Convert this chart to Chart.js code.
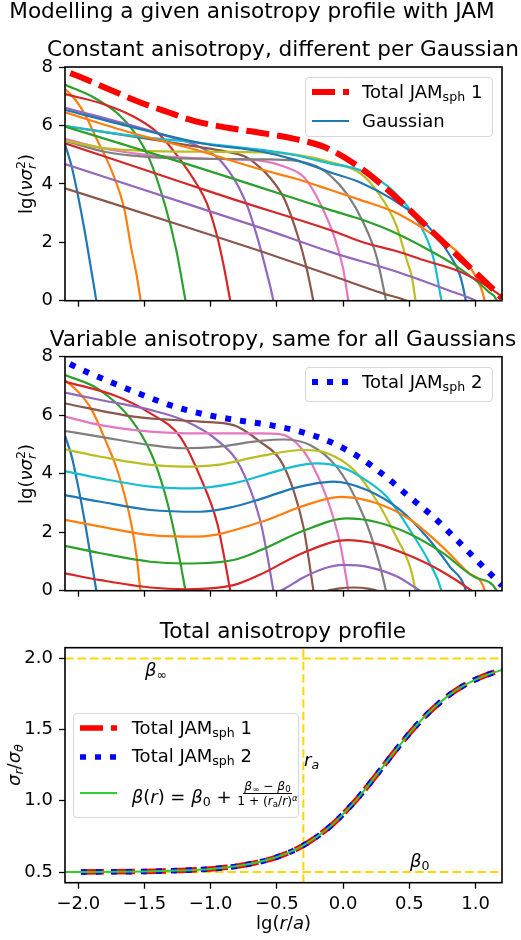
<!DOCTYPE html>
<html lang="en">
<head>
<meta charset="UTF-8">
<title>Modelling a given anisotropy profile with JAM</title>
<script src="https://cdn.jsdelivr.net/npm/chart.js"></script>
<style>
  body { margin: 0; background: #fff; }
  #fig { position: relative; width: 521px; height: 940px; overflow: hidden; font-family: 'DejaVu Sans', sans-serif; color: #000; }
  #fig canvas { position: absolute; left: 0; top: 0; }
  .txt { position: absolute; white-space: nowrap; line-height: 1; font-size: 18px; }
  .title { font-size: 21.6px; transform: translateX(-50%); }
  .ylab { transform: translate(-50%, -50%) rotate(-90deg); }
  .xlab { transform: translate(-50%, -50%); }
  .txt sub, .txt sup { font-size: 0.7em; line-height: 0; }
  .txt sub { vertical-align: -0.25em; }
  .txt sup { vertical-align: 0.5em; }
  .ss { display: inline-block; font-size: 0.7em; line-height: 0.9; vertical-align: -0.3em; }
  .ss span { display: block; }
  .leg { position: absolute; box-sizing: border-box; border: 1px solid #d6d6d6; border-radius: 4px; background: rgba(255,255,255,0.8); }
  .leg svg { position: absolute; }
  .frac { display: inline-flex; flex-direction: column; align-items: center; font-size: 0.68em; vertical-align: 13px; }
  .frac .num { border-bottom: 1px solid #000; padding: 0 1px 1px 1px; }
  .frac .den { padding-top: 1px; }
</style>
</head>
<body>
<div id="fig">
  <canvas id="chart1" width="521" height="940"></canvas>
  <canvas id="chart2" width="521" height="940"></canvas>
  <canvas id="chart3" width="521" height="940"></canvas>

  <div class="txt title" style="left:252px; top:0px;">Modelling a given anisotropy profile with JAM</div>
  <div class="txt title" style="left:283px; top:38.4px;">Constant anisotropy, different per Gaussian</div>
  <div class="txt title" style="left:283px; top:328.1px;">Variable anisotropy, same for all Gaussians</div>
  <div class="txt title" style="left:283px; top:619.7px;">Total anisotropy profile</div>

  <div class="txt ylab" style="left:26px; top:184px;">lg(<i>νσ</i><span class="ss"><span>2</span><span><i>r</i></span></span>)</div>
  <div class="txt ylab" style="left:26px; top:474px;">lg(<i>νσ</i><span class="ss"><span>2</span><span><i>r</i></span></span>)</div>
  <div class="txt ylab" style="left:14px; top:765px;"><i>σ</i><sub><i>r</i></sub>/<i>σ</i><sub><i>θ</i></sub></div>
  <div class="txt xlab" style="left:283.5px; top:923px;">lg(<i>r</i>/<i>a</i>)</div>

  <div class="txt" style="left:145px; top:661px;"><i>β</i><sub>∞</sub></div>
  <div class="txt" style="left:410px; top:852px;"><i>β</i><sub>0</sub></div>
  <div class="txt" style="left:304px; top:751px;"><i>r</i><sub><i>a</i></sub></div>

  <div class="leg" style="left:305px; top:76.7px; width:188px; height:60.6px;">
    <svg width="37" height="12" style="left:6px; top:8px;"><line x1="0" y1="6" x2="37" y2="6" stroke="#ff0000" stroke-width="6" stroke-dasharray="23 8"/></svg>
    <div class="txt" style="left:56px; top:5px;">Total JAM<sub>sph</sub> 1</div>
    <svg width="37" height="12" style="left:6px; top:37.3px;"><line x1="0" y1="6" x2="37" y2="6" stroke="#1f77b4" stroke-width="2.2"/></svg>
    <div class="txt" style="left:56px; top:34.6px;">Gaussian</div>
  </div>

  <div class="leg" style="left:305px; top:366.7px; width:188px; height:35px;">
    <svg width="37" height="12" style="left:6px; top:8px;"><line x1="0" y1="6" x2="37" y2="6" stroke="#0000ff" stroke-width="6" stroke-dasharray="6 9"/></svg>
    <div class="txt" style="left:56px; top:5px;">Total JAM<sub>sph</sub> 2</div>
  </div>

  <div class="leg" style="left:73.3px; top:712.7px; width:226px; height:105.6px;">
    <svg width="37" height="12" style="left:6px; top:8.6px;"><line x1="0" y1="6" x2="37" y2="6" stroke="#ff0000" stroke-width="5.5" stroke-dasharray="23 8"/></svg>
    <div class="txt" style="left:57.4px; top:5.1px;">Total JAM<sub>sph</sub> 1</div>
    <svg width="37" height="12" style="left:6px; top:37px;"><line x1="0" y1="6" x2="37" y2="6" stroke="#0000ff" stroke-width="5.5" stroke-dasharray="6 9"/></svg>
    <div class="txt" style="left:57.4px; top:33.1px;">Total JAM<sub>sph</sub> 2</div>
    <svg width="37" height="12" style="left:6px; top:73.6px;"><line x1="0" y1="6" x2="37" y2="6" stroke="#32cd32" stroke-width="2"/></svg>
    <div class="txt" style="left:57.4px; top:66.4px;"><i>β</i>(<i>r</i>) = <i>β</i><sub>0</sub> + <span class="frac"><span class="num"><i>β</i><sub>∞</sub> − <i>β</i><sub>0</sub></span><span class="den">1 + (<i>r</i><sub>a</sub>/<i>r</i>)<sup><i>α</i></sup></span></span></div>
  </div>
</div>

<script>
    // axis ranges and ticks
    const X_MIN = -2.1;
    const X_MAX = 1.2;
    const xTicks = [-2.0, -1.5, -1.0, -0.5, 0.0, 0.5, 1.0];
    const lgTicks = [0, 2, 4, 6, 8];
    const ratioTicks = [0.5, 1.0, 1.5, 2.0];

    const tab10 = ['#1f77b4', '#ff7f0e', '#2ca02c', '#d62728', '#9467bd',
                   '#8c564b', '#e377c2', '#7f7f7f', '#bcbd22', '#17becf'];

    // ---- panel 1: constant anisotropy, one curve per Gaussian [lg(r/a), lg(nu sigma_r^2)]
    const p1g01 = [[-2.1,5.35],[-2.05,4.6],[-2.0,3.55],[-1.95,2.35],[-1.9,1.0],[-1.864,0],[-1.85,-0.5]];
    const p1g02 = [[-2.1,7.25],[-2.02,6.87],[-1.94,6.3],[-1.87,5.62],[-1.8,4.98],[-1.74,4.36],[-1.65,3.1],[-1.6,1.8],[-1.56,0.9],[-1.528,0],[-1.51,-0.5]];
    const p1g03 = [[-2.1,7.39],[-1.88,6.95],[-1.7,6.4],[-1.58,5.79],[-1.47,4.93],[-1.34,3.2],[-1.26,1.74],[-1.19,0],[-1.17,-0.5]];
    const p1g04 = [[-2.1,7.07],[-1.83,6.76],[-1.58,6.3],[-1.4,5.75],[-1.25,4.95],[-1.1,3.95],[-1.03,3.35],[-0.95,2.19],[-0.9,1.16],[-0.852,0],[-0.83,-0.5]];
    const p1g05 = [[-2.1,6.6],[-1.6,6.0],[-1.3,5.6],[-1.1,5.3],[-0.95,4.9],[-0.865,4.45],[-0.79,3.9],[-0.72,3.2],[-0.65,2.2],[-0.59,1.2],[-0.526,0],[-0.51,-0.4]];
    const p1g06 = [[-2.1,5.98],[-1.7,5.7],[-1.26,5.39],[-1.1,5.27],[-0.9,5.12],[-0.75,4.95],[-0.65,4.65],[-0.55,4.2],[-0.44,3.45],[-0.34,2.19],[-0.28,1.2],[-0.225,0],[-0.21,-0.4]];
    const p1g07 = [[-2.1,5.54],[-1.8,5.2],[-1.5,5.0],[-1.2,4.9],[-0.9,4.85],[-0.6,4.78],[-0.45,4.6],[-0.29,4.2],[-0.17,3.3],[-0.06,2.1],[0.0,1.1],[0.04,0],[0.055,-0.4]];
    const p1g08 = [[-2.1,5.47],[-1.8,5.1],[-1.5,4.93],[-1.1,4.86],[-0.6,4.84],[-0.375,4.8],[-0.2,4.6],[-0.1,4.3],[0.03,3.65],[0.15,2.7],[0.25,1.55],[0.324,0],[0.34,-0.4]];
    const p1g09 = [[-2.1,5.48],[-1.8,5.22],[-1.5,5.13],[-1.06,5.1],[-0.61,5.08],[-0.36,5.0],[-0.1,4.75],[0.13,4.36],[0.28,3.6],[0.4,2.6],[0.48,1.4],[0.52,0.8],[0.547,0],[0.56,-0.4]];
    const p1g10 = [[-2.1,5.98],[-1.6,5.65],[-1.06,5.39],[-0.61,5.16],[-0.36,4.98],[-0.1,4.7],[0.14,4.45],[0.38,3.75],[0.58,2.6],[0.68,1.5],[0.743,0],[0.76,-0.4]];
    const p1g11 = [[-2.1,6.53],[-1.6,5.95],[-1.06,5.38],[-0.61,5.1],[-0.36,4.82],[-0.1,4.4],[0.13,4.05],[0.38,3.45],[0.63,2.6],[0.8,1.6],[0.88,0.9],[0.927,0],[0.94,-0.4]];
    const p1g12 = [[-2.1,6.45],[-1.6,5.75],[-1.1,5.15],[-0.626,4.5],[-0.375,4.2],[-0.1,3.8],[0.13,3.45],[0.38,3.05],[0.63,2.4],[0.88,1.6],[0.98,1.0],[1.07,0],[1.08,-0.3]];
    const p1g13 = [[-2.1,5.96],[-1.116,4.59],[-0.626,3.88],[-0.1,3.11],[0.15,2.76],[0.4,2.31],[0.65,1.73],[0.85,1.2],[1.0,0.7],[1.1,0.3],[1.16,0],[1.17,-0.2]];
    const p1g14 = [[-2.1,5.39],[-1.116,3.9],[-0.815,3.45],[-0.061,2.36],[0.15,2.0],[0.4,1.7],[0.6,1.4],[0.88,1.0],[1.05,0.6],[1.2,0.15]];
    const p1g15 = [[-2.1,4.68],[-1.115,3.22],[-0.626,2.5],[-0.061,1.62],[0.4,1.0],[0.8,0.35],[1.0,0],[1.05,-0.15]];
    const p1g16 = [[-2.1,3.85],[-1.115,2.42],[-0.626,1.7],[-0.061,0.82],[0.3,0.25],[0.48,0],[0.52,-0.1]];
    const p1Total = [[-2.06,7.79],[-1.98,7.65],[-1.8,7.3],[-1.55,6.82],[-1.32,6.45],[-1.12,6.15],[-0.86,5.91],[-0.63,5.75],[-0.375,5.55],[-0.12,5.22],[0.13,4.55],[0.38,3.62],[0.63,2.55],[0.88,1.47],[1.13,0.4],[1.2,0.08]];

    // ---- panel 2: variable anisotropy, same for all Gaussians
    const p2g01 = [[-2.1,5.3],[-2.05,4.6],[-2.0,3.55],[-1.95,2.35],[-1.9,1.0],[-1.864,0],[-1.85,-0.5]];
    const p2g02 = [[-2.1,7.2],[-2.0,6.8],[-1.9,6.2],[-1.8,5.2],[-1.7,4.05],[-1.6,2.3],[-1.56,1.2],[-1.53,0],[-1.51,-0.5]];
    const p2g03 = [[-2.1,7.37],[-1.85,6.9],[-1.6,5.85],[-1.45,4.7],[-1.35,3.4],[-1.27,1.9],[-1.19,0],[-1.17,-0.5]];
    const p2g04 = [[-2.1,7.15],[-1.7,6.63],[-1.455,6.06],[-1.23,5.26],[-1.08,3.9],[-0.95,2.3],[-0.9,1.2],[-0.852,0],[-0.83,-0.5]];
    const p2g05 = [[-2.1,6.77],[-1.83,6.52],[-1.455,6.18],[-1.178,5.78],[-0.952,5.15],[-0.776,4.24],[-0.626,2.4],[-0.576,1.3],[-0.526,0],[-0.51,-0.4]];
    const p2g06 = [[-2.1,6.4],[-1.58,5.95],[-1.08,5.78],[-0.827,5.66],[-0.626,5.09],[-0.475,4.47],[-0.375,3.44],[-0.3,2.19],[-0.26,1.1],[-0.224,0],[-0.21,-0.4]];
    const p2g07 = [[-2.1,5.95],[-1.83,5.66],[-1.455,5.44],[-1.08,5.38],[-0.626,5.38],[-0.475,5.35],[-0.325,4.92],[-0.2,4.01],[-0.1,2.87],[-0.023,1.62],[0.04,0],[0.055,-0.4]];
    const p2g08 = [[-2.1,5.46],[-1.83,5.26],[-1.455,4.98],[-1.2,4.87],[-0.952,4.92],[-0.626,5.12],[-0.45,5.17],[-0.25,4.98],[-0.05,4.24],[0.1,3.1],[0.23,1.62],[0.324,0],[0.34,-0.4]];
    const p2g09 = [[-2.1,4.83],[-1.83,4.58],[-1.455,4.3],[-1.2,4.24],[-0.952,4.3],[-0.626,4.6],[-0.3,4.81],[-0.12,4.7],[0.08,4.13],[0.25,3.1],[0.4,1.85],[0.505,0.82],[0.547,0],[0.56,-0.4]];
    const p2g10 = [[-2.1,4.09],[-1.83,3.84],[-1.455,3.56],[-1.15,3.5],[-0.827,3.67],[-0.626,3.92],[-0.375,4.24],[-0.2,4.35],[0.0,4.2],[0.13,3.9],[0.33,3.21],[0.505,2.07],[0.655,0.93],[0.743,0],[0.76,-0.4]];
    const p2g11 = [[-2.1,3.27],[-1.83,3.04],[-1.455,2.76],[-1.08,2.7],[-0.827,2.87],[-0.626,3.13],[-0.375,3.5],[-0.073,3.73],[0.18,3.44],[0.43,2.76],[0.63,1.85],[0.806,0.82],[0.927,0],[0.94,-0.3]];
    const p2g12 = [[-2.1,2.42],[-1.83,2.19],[-1.455,1.9],[-1.1,1.85],[-0.626,2.34],[-0.3,2.9],[-0.02,3.21],[0.25,3.0],[0.5,2.45],[0.75,1.5],[0.95,0.6],[1.07,0],[1.08,-0.3]];
    const p2g13 = [[-2.1,1.53],[-1.83,1.28],[-1.455,0.99],[-1.2,0.93],[-0.827,1.05],[-0.626,1.38],[-0.3,2.05],[0.03,2.47],[0.25,2.35],[0.5,1.95],[0.75,1.3],[1.0,0.45],[1.16,0],[1.17,-0.2]];
    const p2g14 = [[-2.1,0.59],[-1.83,0.36],[-1.455,0.11],[-1.178,0.05],[-0.827,0.19],[-0.626,0.55],[-0.3,1.3],[0.03,1.73],[0.25,1.6],[0.5,1.2],[0.75,0.65],[0.97,0],[1.05,-0.3]];
    const p2g15 = [[-0.626,-0.3],[-0.45,0.05],[-0.3,0.45],[-0.15,0.75],[0.0,0.88],[0.2,0.8],[0.4,0.5],[0.58,0],[0.65,-0.2]];
    const p2g16 = [[-0.2,-0.1],[-0.05,0.06],[0.08,0.11],[0.2,0.06],[0.32,-0.1]];
    const p2Total = [[-2.063,7.75],[-1.927,7.46],[-1.71,7.05],[-1.48,6.63],[-1.254,6.27],[-1.028,6.01],[-0.8,5.83],[-0.55,5.66],[-0.324,5.44],[-0.098,5.09],[0.115,4.58],[0.316,3.92],[0.492,3.24],[0.68,2.53],[0.856,1.75],[1.02,0.99],[1.183,0.25],[1.2,0.17]];

    // ---- panel 3: sigma_r / sigma_theta
    const p3Jam1 = [[-1.98,0.5],[-1.5,0.504],[-1.25,0.51],[-1.0,0.522],[-0.75,0.549],[-0.5,0.605],[-0.3,0.687],[-0.1,0.818],[0.0,0.907],[0.1,1.007],[0.2,1.12],[0.3,1.239],[0.4,1.358],[0.5,1.472],[0.6,1.576],[0.7,1.665],[0.8,1.742],[0.9,1.803],[1.0,1.851],[1.1,1.889],[1.2,1.918]];
    const p3Jam2 = [[-1.98,0.5],[-1.5,0.504],[-1.25,0.51],[-1.0,0.522],[-0.75,0.549],[-0.5,0.605],[-0.3,0.687],[-0.1,0.818],[0.0,0.907],[0.1,1.007],[0.2,1.12],[0.3,1.239],[0.4,1.358],[0.5,1.472],[0.6,1.576],[0.7,1.665],[0.8,1.742],[0.9,1.803],[1.0,1.851],[1.1,1.889],[1.2,1.918]];
    const p3Beta = [[-2.1,0.5],[-1.5,0.504],[-1.25,0.51],[-1.0,0.522],[-0.75,0.549],[-0.5,0.605],[-0.3,0.687],[-0.1,0.818],[0.0,0.907],[0.1,1.007],[0.2,1.12],[0.3,1.239],[0.4,1.358],[0.5,1.472],[0.6,1.576],[0.7,1.665],[0.8,1.742],[0.9,1.803],[1.0,1.851],[1.1,1.889],[1.2,1.918]];
    const beta0 = 0.5;
    const betaInf = 2.0;
    const lgRa = -0.3;

    Chart.defaults.font.family = "'DejaVu Sans', sans-serif";
    Chart.defaults.color = '#000';

    function pts(arr) {
        return arr.map(function (p) { return { x: p[0], y: p[1] }; });
    }

    function curve(arr, color, width, order, dash) {
        return {
            data: pts(arr),
            borderColor: color,
            borderWidth: width,
            borderDash: dash || [],
            borderCapStyle: 'butt',
            pointRadius: 0,
            fill: false,
            cubicInterpolationMode: 'monotone',
            clip: 0,
            order: order
        };
    }

    function signed(v) {
        return (v < 0 ? '\u2212' : '') + Math.abs(v).toFixed(1);
    }

    // draws the four spines on top of the lines
    const frame = {
        id: 'frame',
        afterDatasetsDraw(chart) {
            const a = chart.chartArea;
            const ctx = chart.ctx;
            ctx.save();
            ctx.strokeStyle = '#000';
            ctx.lineWidth = 1.6;
            ctx.strokeRect(a.left, a.top, a.right - a.left, a.bottom - a.top);
            ctx.restore();
        }
    };

    const XH = 40;
    const tickGrid = { drawOnChartArea: false, drawTicks: true, tickLength: 6, tickWidth: 1.3, tickColor: '#000', color: '#000' };

    function makeChart(id, datasets, top, bottom, yMin, yMax, yTicks, yFmt, showX) {
        return new Chart(document.getElementById(id), {
            type: 'line',
            data: { datasets: datasets },
            options: {
                responsive: false,
                animation: false,
                devicePixelRatio: 1,
                layout: { padding: { top: top, bottom: 940 - bottom - XH, left: 0, right: 19 } },
                plugins: { legend: { display: false }, tooltip: { enabled: false }, title: { display: false } },
                scales: {
                    x: {
                        type: 'linear', min: X_MIN, max: X_MAX,
                        afterBuildTicks: function (s) { s.ticks = xTicks.map(function (v) { return { value: v }; }); },
                        afterFit: function (s) { s.height = XH; },
                        grid: tickGrid,
                        border: { display: false },
                        ticks: { display: showX, padding: 5, maxRotation: 0, autoSkip: false, font: { size: 18 }, color: '#000', callback: signed }
                    },
                    y: {
                        type: 'linear', min: yMin, max: yMax,
                        afterBuildTicks: function (s) { s.ticks = yTicks.map(function (v) { return { value: v }; }); },
                        afterFit: function (s) { s.width = 65; },
                        grid: tickGrid,
                        border: { display: false },
                        ticks: { padding: 6, autoSkip: false, font: { size: 18 }, color: '#000', callback: yFmt }
                    }
                }
            },
            plugins: [frame]
        });
    }

    function gaussSets(list) {
        return list.map(function (arr, i) { return curve(arr, tab10[i % 10], 2.2, 100 - i); });
    }

    const sets1 = gaussSets([p1g01, p1g02, p1g03, p1g04, p1g05, p1g06, p1g07, p1g08,
                             p1g09, p1g10, p1g11, p1g12, p1g13, p1g14, p1g15, p1g16]);
    sets1.push(curve(p1Total, '#ff0000', 6, 0, [23, 8]));

    const sets2 = gaussSets([p2g01, p2g02, p2g03, p2g04, p2g05, p2g06, p2g07, p2g08,
                             p2g09, p2g10, p2g11, p2g12, p2g13, p2g14, p2g15, p2g16]);
    sets2.push(curve(p2Total, '#0000ff', 6, 0, [6, 9]));

    const gold = '#ffd700';
    const sets3 = [
        curve([[X_MIN, betaInf], [X_MAX, betaInf]], gold, 2, 50, [8.5, 4]),
        curve([[X_MIN, beta0], [X_MAX, beta0]], gold, 2, 50, [8.5, 4]),
        { data: [{ x: lgRa, y: 0.425 }, { x: lgRa, y: 2.075 }], borderColor: gold, borderWidth: 2, borderDash: [8.5, 4], pointRadius: 0, fill: false, clip: 0, order: 50 },
        curve(p3Jam1, '#ff0000', 5.5, 3, [23, 8]),
        curve(p3Jam2, '#0000ff', 5.5, 2, [6, 9]),
        curve(p3Beta, '#32cd32', 2, 1)
    ];

    makeChart('chart1', sets1, 67, 300.7, 0, 8, lgTicks, function (v) { return String(v); }, false);
    makeChart('chart2', sets2, 356.7, 590.7, 0, 8, lgTicks, function (v) { return String(v); }, false);
    makeChart('chart3', sets3, 647.7, 882.7, 0.425, 2.075, ratioTicks, function (v) { return v.toFixed(1); }, true);
</script>
</body>
</html>
